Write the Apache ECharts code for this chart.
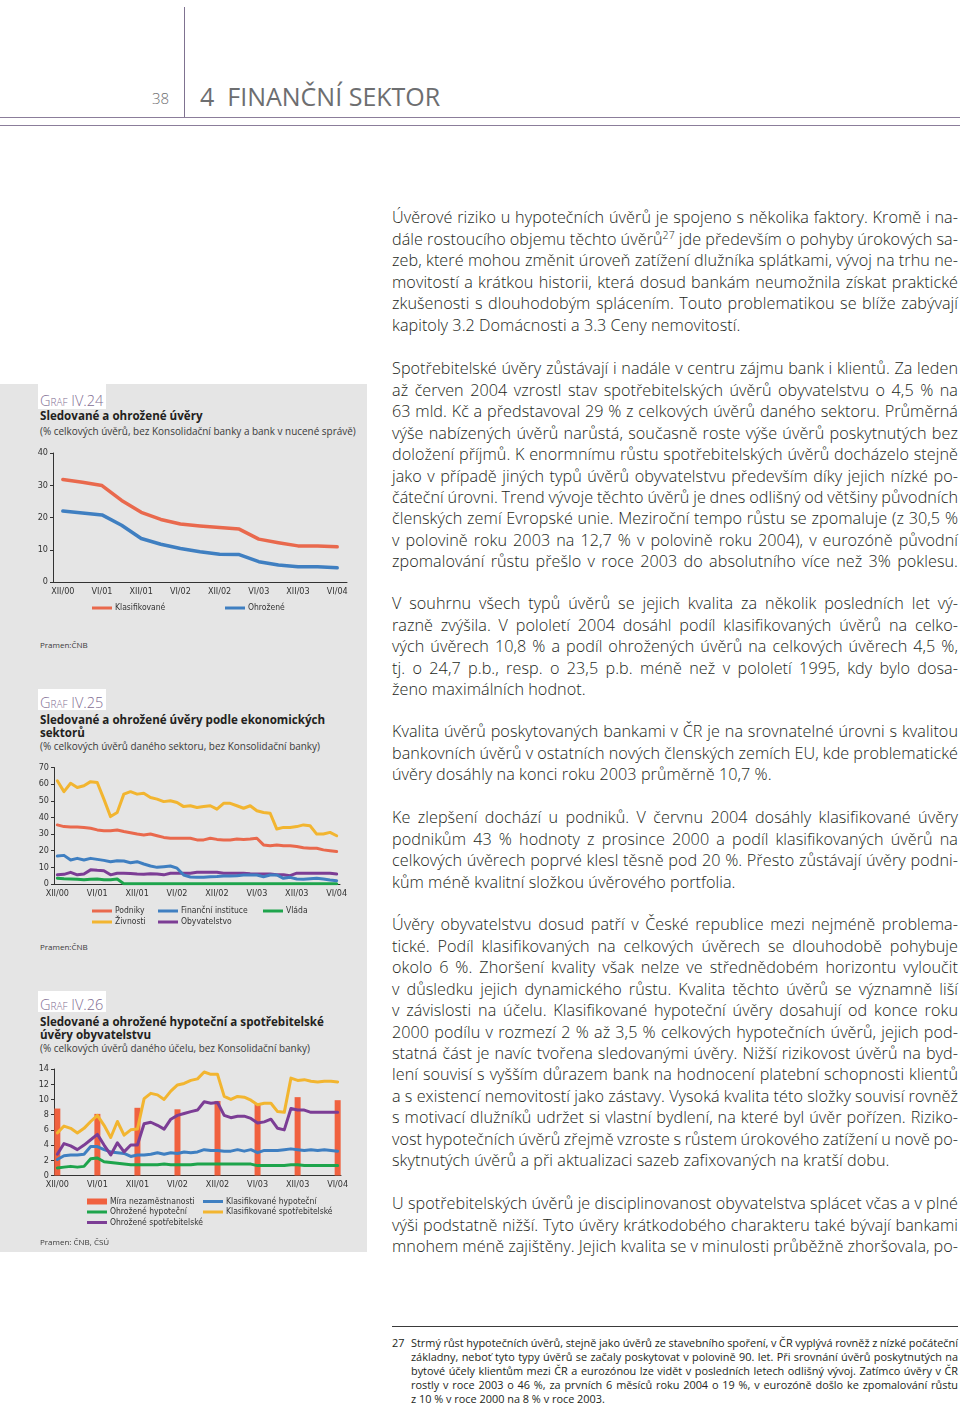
<!DOCTYPE html>
<html><head><meta charset="utf-8">
<script src="https://cdn.jsdelivr.net/npm/echarts@6/dist/echarts.min.js"></script>
<style>
html,body{margin:0;padding:0;background:#fff;}
#page{position:relative;width:960px;height:1406px;overflow:hidden;font-family:"Open Sans",sans-serif;color:#231f20;}
.a{position:absolute;white-space:nowrap;}
.rule{position:absolute;left:0;width:960px;height:1.5px;background:#8b7d9a;}
.para{position:absolute;left:392px;width:566px;font-size:16.2px;letter-spacing:0.05px;font-weight:300;line-height:21.45px;color:#231f20;}
.ln{width:566px;white-space:nowrap;}
.fn{position:absolute;left:411px;width:547px;font-size:10.9px;line-height:14px;color:#231f20;}
.fn .ln{width:547px;}
sup{font-size:10.5px;line-height:0;vertical-align:6px;}
.panel{position:absolute;left:0;top:384px;width:367px;height:868px;background:#e5e5e5;}
.tab{position:absolute;left:38px;width:68px;height:21px;background:#fff;}
.graf{position:absolute;left:40px;font-size:14.5px;line-height:18px;color:#7f6e93;font-variant:small-caps;font-weight:300;white-space:nowrap;}
.ttl{position:absolute;left:40px;font-size:11.6px;line-height:13.5px;font-weight:700;color:#231f20;white-space:nowrap;}
.sub{position:absolute;left:40px;font-size:9.95px;line-height:13px;color:#3a3a3a;white-space:nowrap;}
.src{position:absolute;left:40px;font-size:8px;line-height:10px;color:#3a3a3a;white-space:nowrap;}
.ch{position:absolute;left:0;width:367px;height:180px;}
</style></head>
<body><div id="page">
<!-- header -->
<div class="a" style="left:184px;top:7px;width:1.3px;height:110px;background:#7f7290;"></div>
<div class="a" style="left:152px;top:88px;font-size:15px;line-height:20px;color:#6d6e70;font-weight:300;">38</div>
<div class="a" style="left:200px;top:81px;font-size:25px;line-height:30px;color:#6d6e70;">4&nbsp; FINANČNÍ SEKTOR</div>
<div class="rule" style="top:116.5px;"></div>
<div class="rule" style="top:124.5px;"></div>

<!-- right column -->
<div class="para" style="top:207.3px;">
<div class="ln j"><span class="t">Úvěrové riziko u hypotečních úvěrů je spojeno s několika faktory. Kromě i na-</span></div>
<div class="ln j"><span class="t">dále rostoucího objemu těchto úvěrů<sup>27</sup> jde především o pohyby úrokových sa-</span></div>
<div class="ln j"><span class="t">zeb, které mohou změnit úroveň zatížení dlužníka splátkami, vývoj na trhu ne-</span></div>
<div class="ln j"><span class="t">movitostí a krátkou historii, která dosud bankám neumožnila získat praktické</span></div>
<div class="ln j"><span class="t">zkušenosti s dlouhodobým splácením. Touto problematikou se blíže zabývají</span></div>
<div class="ln l"><span class="t">kapitoly 3.2 Domácnosti a 3.3 Ceny nemovitostí.</span></div>
</div>
<div class="para" style="top:358.3px;">
<div class="ln j"><span class="t">Spotřebitelské úvěry zůstávají i nadále v centru zájmu bank i klientů. Za leden</span></div>
<div class="ln j"><span class="t">až červen 2004 vzrostl stav spotřebitelských úvěrů obyvatelstvu o 4,5 % na</span></div>
<div class="ln j"><span class="t">63 mld. Kč a představoval 29 % z celkových úvěrů daného sektoru. Průměrná</span></div>
<div class="ln j"><span class="t">výše nabízených úvěrů narůstá, současně roste výše úvěrů poskytnutých bez</span></div>
<div class="ln j"><span class="t">doložení příjmů. K enormnímu růstu spotřebitelských úvěrů docházelo stejně</span></div>
<div class="ln j"><span class="t">jako v případě jiných typů úvěrů obyvatelstvu především díky jejich nízké po-</span></div>
<div class="ln j"><span class="t">čáteční úrovni. Trend vývoje těchto úvěrů je dnes odlišný od většiny původních</span></div>
<div class="ln j"><span class="t">členských zemí Evropské unie. Meziroční tempo růstu se zpomaluje (z 30,5 %</span></div>
<div class="ln j"><span class="t">v polovině roku 2003 na 12,7 % v polovině roku 2004), v eurozóně původní</span></div>
<div class="ln j"><span class="t">zpomalování růstu přešlo v roce 2003 do absolutního více než 3% poklesu.</span></div>
</div>
<div class="para" style="top:593.3px;">
<div class="ln j"><span class="t">V souhrnu všech typů úvěrů se jejich kvalita za několik posledních let vý-</span></div>
<div class="ln j"><span class="t">razně zvýšila. V pololetí 2004 dosáhl podíl klasifikovaných úvěrů na celko-</span></div>
<div class="ln j"><span class="t">vých úvěrech 10,8 % a podíl ohrožených úvěrů na celkových úvěrech 4,5 %,</span></div>
<div class="ln j"><span class="t">tj. o 24,7 p.b., resp. o 23,5 p.b. méně než v pololetí 1995, kdy bylo dosa-</span></div>
<div class="ln l"><span class="t">ženo maximálních hodnot.</span></div>
</div>
<div class="para" style="top:721.3px;">
<div class="ln j"><span class="t">Kvalita úvěrů poskytovaných bankami v ČR je na srovnatelné úrovni s kvalitou</span></div>
<div class="ln j"><span class="t">bankovních úvěrů v ostatních nových členských zemích EU, kde problematické</span></div>
<div class="ln l"><span class="t">úvěry dosáhly na konci roku 2003 průměrně 10,7 %.</span></div>
</div>
<div class="para" style="top:807.3px;">
<div class="ln j"><span class="t">Ke zlepšení dochází u podniků. V červnu 2004 dosáhly klasifikované úvěry</span></div>
<div class="ln j"><span class="t">podnikům 43 % hodnoty z prosince 2000 a podíl klasifikovaných úvěrů na</span></div>
<div class="ln j"><span class="t">celkových úvěrech poprvé klesl těsně pod 20 %. Přesto zůstávají úvěry podni-</span></div>
<div class="ln l"><span class="t">kům méně kvalitní složkou úvěrového portfolia.</span></div>
</div>
<div class="para" style="top:914.3px;">
<div class="ln j"><span class="t">Úvěry obyvatelstvu dosud patří v České republice mezi nejméně problema-</span></div>
<div class="ln j"><span class="t">tické. Podíl klasifikovaných na celkových úvěrech se dlouhodobě pohybuje</span></div>
<div class="ln j"><span class="t">okolo 6 %. Zhoršení kvality však nelze ve střednědobém horizontu vyloučit</span></div>
<div class="ln j"><span class="t">v důsledku jejich dynamického růstu. Kvalita těchto úvěrů se významně liší</span></div>
<div class="ln j"><span class="t">v závislosti na účelu. Klasifikované hypoteční úvěry dosahují od konce roku</span></div>
<div class="ln j"><span class="t">2000 podílu v rozmezí 2 % až 3,5 % celkových hypotečních úvěrů, jejich pod-</span></div>
<div class="ln j"><span class="t">statná část je navíc tvořena sledovanými úvěry. Nižší rizikovost úvěrů na byd-</span></div>
<div class="ln j"><span class="t">lení souvisí s vyšším důrazem bank na hodnocení platební schopnosti klientů</span></div>
<div class="ln j"><span class="t">a s existencí nemovitostí jako zástavy. Vysoká kvalita této složky souvisí rovněž</span></div>
<div class="ln j"><span class="t">s motivací dlužníků udržet si vlastní bydlení, na které byl úvěr pořízen. Riziko-</span></div>
<div class="ln j"><span class="t">vost hypotečních úvěrů zřejmě vzroste s růstem úrokového zatížení u nově po-</span></div>
<div class="ln l"><span class="t">skytnutých úvěrů a při aktualizaci sazeb zafixovaných na kratší dobu.</span></div>
</div>
<div class="para" style="top:1193.3px;">
<div class="ln j"><span class="t">U spotřebitelských úvěrů je disciplinovanost obyvatelstva splácet včas a v plné</span></div>
<div class="ln j"><span class="t">výši podstatně nižší. Tyto úvěry krátkodobého charakteru také bývají bankami</span></div>
<div class="ln j"><span class="t">mnohem méně zajištěny. Jejich kvalita se v minulosti průběžně zhoršovala, po-</span></div>
</div>

<!-- footnote -->
<div class="a" style="left:392px;top:1326px;width:566px;height:1px;background:#3a3a3a;"></div>
<div class="a" style="left:392px;top:1336px;font-size:10.9px;line-height:14px;">27</div>
<div class="fn" style="top:1336px;">
<div class="ln j"><span class="t">Strmý růst hypotečních úvěrů, stejně jako úvěrů ze stavebního spoření, v ČR vyplývá rovněž z nízké počáteční</span></div>
<div class="ln j"><span class="t">základny, neboť tyto typy úvěrů se začaly poskytovat v polovině 90. let. Při srovnání úvěrů poskytnutých na</span></div>
<div class="ln j"><span class="t">bytové účely klientům mezi ČR a eurozónou lze vidět v posledních letech odlišný vývoj. Zatímco úvěry v ČR</span></div>
<div class="ln j"><span class="t">rostly v roce 2003 o 46 %, za prvních 6 měsíců roku 2004 o 19 %, v eurozóně došlo ke zpomalování růstu</span></div>
<div class="ln l"><span class="t">z 10 % v roce 2000 na 8 % v roce 2003.</span></div>
</div>

<!-- left panel -->
<div class="panel"></div>

<div class="tab" style="top:384px;height:25px;"></div>
<div class="graf" style="top:392px;">Graf IV.24</div>
<div class="ttl" style="top:409px;">Sledované a ohrožené úvěry</div>
<div class="sub" style="top:425px;">(% celkových úvěrů, bez Konsolidační banky a bank v nucené správě)</div>
<div id="c1" class="ch" style="top:440px;"></div>
<div class="src" style="top:640px;">Pramen:ČNB</div>

<div class="tab" style="top:689px;"></div>
<div class="graf" style="top:694px;">Graf IV.25</div>
<div class="ttl" style="top:712.5px;">Sledované a ohrožené úvěry podle ekonomických<br>sektorů</div>
<div class="sub" style="top:739.5px;">(% celkových úvěrů daného sektoru, bez Konsolidační banky)</div>
<div id="c2" class="ch" style="top:755px;"></div>
<div class="src" style="top:941.5px;">Pramen:ČNB</div>

<div class="tab" style="top:991px;"></div>
<div class="graf" style="top:996px;">Graf IV.26</div>
<div class="ttl" style="top:1014.5px;">Sledované a ohrožené hypoteční a spotřebitelské<br>úvěry obyvatelstvu</div>
<div class="sub" style="top:1041.5px;">(% celkových úvěrů daného účelu, bez Konsolidační banky)</div>
<div id="c3" class="ch" style="top:1058px;"></div>
<div class="src" style="top:1237px;">Pramen: ČNB, ČSÚ</div>
</div>

<script>
// ---------- DATA ----------
const quarters = ['XII/00','III/01','VI/01','IX/01','XII/01','III/02','VI/02','IX/02','XII/02','III/03','VI/03','IX/03','XII/03','III/04','VI/04'];
const klasifikovane = [31.8, 30.9, 29.9, 25.3, 21.6, 19.4, 18.0, 17.4, 16.9, 16.4, 13.3, 12.2, 11.2, 11.2, 10.9];
const ohrozene = [22.0, 21.4, 20.8, 17.6, 13.5, 11.7, 10.4, 9.4, 8.6, 8.5, 6.3, 5.3, 4.7, 4.7, 4.4];

const months = ['XII/00',
 'I/01','II/01','III/01','IV/01','V/01','VI/01','VII/01','VIII/01','IX/01','X/01','XI/01','XII/01',
 'I/02','II/02','III/02','IV/02','V/02','VI/02','VII/02','VIII/02','IX/02','X/02','XI/02','XII/02',
 'I/03','II/03','III/03','IV/03','V/03','VI/03','VII/03','VIII/03','IX/03','X/03','XI/03','XII/03',
 'I/04','II/04','III/04','IV/04','V/04','VI/04'];

const podniky = [35.5, 34.5, 34.3, 34.3, 34, 33.5, 32.5, 32, 32, 32.4, 31.5, 30.8, 30, 29.5, 30, 29, 28, 27.5, 27.5, 27.5, 27.5, 26.5, 26.5, 27.5, 26.8, 26.5, 26.5, 27, 26.8, 27, 27.5, 23.5, 23, 23.5, 23, 23, 22.5, 21.8, 21.5, 21.5, 20.5, 20, 19.5];
const zivnosti = [62, 55.5, 60.5, 58, 59, 61.5, 61, 51, 40.5, 43, 54, 55.5, 54, 54.5, 52, 51, 49.5, 50, 49, 46.5, 47, 46, 46.5, 47, 45, 48.5, 48.5, 47, 45.5, 47, 44, 43, 42.5, 33, 34, 34, 34.5, 35.5, 35, 30, 30, 31, 29];
const financni = [16.8, 17.2, 14.4, 15.4, 14.4, 15.4, 14.8, 14.2, 13.4, 14, 13.8, 12.8, 13.4, 12, 10.8, 10, 10.4, 10.8, 9.5, 5.4, 4.2, 4, 4, 4.3, 4.5, 4.8, 4.8, 5, 5.4, 5.4, 5.4, 4.4, 5.4, 5.4, 3.4, 4, 3, 2.8, 3.2, 3.4, 3, 2.4, 2];
const obyvatelstvo = [5.5, 5.8, 7, 5.5, 6, 8.5, 8.2, 8, 5.5, 6.5, 6.5, 6.3, 6, 5.8, 6.2, 6, 5.5, 6.5, 6.5, 6.5, 6.5, 7, 7, 7, 7, 6.5, 6.5, 6.5, 6.5, 6.2, 6, 6, 6, 5.5, 5.5, 5, 6.5, 6.5, 6.5, 6.5, 6.5, 6.5, 6];
const vlada = [3.5, 3.2, 3, 2.8, 2.5, 2.8, 3, 2.6, 2.6, 3, 0.2, 0.2, 0.2, 0.2, 0.2, 0.2, 0.2, 0.2, 0.2, 0.2, 0.2, 0.2, 0.2, 0.2, 0.2, 0.2, 0.2, 0.2, 0.2, 0.2, 0.2, 0.2, 0.2, 0.2, 0.2, 0.2, 0.2, 0.2, 0.2, 0.2, 0.2, 0.2, 0.2];

const unemploymentMonths = ['XII/00','VI/01','XII/01','VI/02','XII/02','VI/03','XII/03','VI/04'];
const unemployment = [8.8, 8.1, 8.9, 8.7, 9.8, 9.4, 10.3, 9.9];
const klasHyp = [2.1, 2.6, 2.7, 2.7, 2.8, 3.8, 3.8, 3.4, 3.1, 3.0, 2.9, 2.5, 2.7, 2.7, 2.8, 3.0, 2.8, 3.0, 2.9, 3.1, 3.0, 3.1, 3.4, 3.3, 3.3, 3.2, 3.2, 3.4, 3.2, 3.4, 3.0, 3.3, 3.3, 3.3, 3.4, 3.5, 3.4, 3.3, 3.4, 3.3, 3.4, 3.3, 3.2];
const ohrHyp = [1.0, 1.1, 1.2, 1.1, 1.2, 2.2, 2.3, 1.8, 1.7, 1.6, 1.5, 1.4, 1.4, 1.4, 1.4, 1.4, 1.5, 1.4, 1.4, 1.4, 1.4, 1.5, 1.5, 1.5, 1.5, 1.5, 1.5, 1.5, 1.5, 1.5, 1.3, 1.3, 1.3, 1.3, 1.3, 1.4, 1.4, 1.3, 1.3, 1.3, 1.3, 1.3, 1.3];
const klasSpotr = [5.6, 6.5, 6.2, 5.6, 6.2, 7.1, 7.9, 6.6, 5.0, 7.1, 5.3, 6.0, 6.1, 10.1, 10.8, 10.6, 10.0, 11.1, 11.9, 12.1, 12.5, 12.7, 13.6, 13.3, 13.3, 10.4, 10.0, 10.4, 10.3, 9.9, 9.3, 9.5, 9.5, 8.4, 8.3, 12.8, 12.5, 12.6, 12.4, 12.3, 12.4, 12.4, 12.3];
const ohrSpotr = [2.8, 4.2, 3.9, 3.4, 4.0, 4.7, 5.4, 4.0, 2.7, 4.3, 3.1, 4.0, 4.0, 6.8, 7.0, 6.6, 6.1, 7.4, 7.9, 8.15, 8.4, 8.6, 9.7, 9.5, 9.6, 7.9, 7.6, 7.8, 7.8, 7.5, 6.9, 7.05, 7.4, 6.2, 6.0, 8.8, 8.6, 8.6, 8.3, 8.3, 8.3, 8.3, 8.3];

// ---------- STYLE ----------
const FF = "'Liberation Sans Narrow','DejaVu Sans Condensed','Open Sans',sans-serif";
const RED='#e9694d', BLUE='#3f7fc1', YEL='#f2b530', GRN='#1ea44c', PUR='#7c3d95', BAR='#f0613f';
function xAx(data, interval){
  return {type:'category', data:data, boundaryGap:true,
    axisLine:{lineStyle:{color:'#333', width:1}}, axisTick:{show:false},
    axisLabel:{interval:interval, fontSize:9, color:'#333', margin:5, fontFamily:FF}};
}
function yAx(max, step){
  return {type:'value', min:0, max:max, interval:step, splitLine:{show:false},
    axisLine:{show:true, lineStyle:{color:'#333', width:1}},
    axisTick:{show:true, length:3, lineStyle:{color:'#333'}},
    axisLabel:{fontSize:9, color:'#333', margin:5, fontFamily:FF}};
}
function leg(name, left, top, icon, h){
  return {data:[name], left:left, top:top, padding:0, icon:icon||'rect', itemWidth:20, itemHeight:h||3,
    selectedMode:false, textStyle:{fontSize:8.5, color:'#333', fontFamily:FF, padding:[0,0,0,-2]}};
}
function ln(name, data, color, w){
  return {name:name, type:'line', data:data, symbol:'none', smooth:false,
    lineStyle:{width:w||3, color:color, join:'round', cap:'round'}, itemStyle:{color:color}};
}

const c1 = echarts.init(document.getElementById('c1'));
c1.setOption({
  animation:false,
  grid:{left:53, top:13, width:294, height:129},
  xAxis:xAx(quarters, 1), yAxis:yAx(40, 10),
  legend:[leg('Klasifikované', 92, 163.5), leg('Ohrožené', 225, 163.5)],
  series:[ln('Klasifikované', klasifikovane, RED, 3.5), ln('Ohrožené', ohrozene, BLUE, 3.5)]
});

const c2 = echarts.init(document.getElementById('c2'));
c2.setOption({
  animation:false,
  grid:{left:54, top:12.5, width:286, height:116.5},
  xAxis:xAx(months, 5), yAxis:yAx(70, 10),
  legend:[leg('Podniky', 92, 151.5), leg('Finanční instituce', 158, 151.5), leg('Vláda', 263, 151.5),
          leg('Živnosti', 92, 162.5), leg('Obyvatelstvo', 158, 162.5)],
  series:[ln('Vláda', vlada, GRN), ln('Obyvatelstvo', obyvatelstvo, PUR), ln('Finanční instituce', financni, BLUE),
          ln('Podniky', podniky, RED), ln('Živnosti', zivnosti, YEL)]
});

const c3 = echarts.init(document.getElementById('c3'));
c3.setOption({
  animation:false,
  grid:{left:54, top:11, width:287, height:106.5},
  xAxis:xAx(months, 5), yAxis:yAx(14, 2),
  legend:[leg('Míra nezaměstnanosti', 87, 139, 'rect', 6), leg('Klasifikované hypoteční', 203, 139),
          leg('Ohrožené hypoteční', 87, 149.5), leg('Klasifikované spotřebitelské', 203, 149.5),
          leg('Ohrožené spotřebitelské', 87, 160)],
  series:[
    {name:'Míra nezaměstnanosti', type:'bar', barWidth:6, itemStyle:{color:BAR},
     data:unemploymentMonths.map((m,i)=>[m, unemployment[i]])},
    ln('Klasifikované hypoteční', klasHyp, BLUE),
    ln('Ohrožené hypoteční', ohrHyp, GRN),
    ln('Klasifikované spotřebitelské', klasSpotr, YEL),
    ln('Ohrožené spotřebitelské', ohrSpotr, PUR)
  ]
});

// ---------- text justification ----------
function justify(){
  document.querySelectorAll('.ln').forEach(el=>{
    const sp = el.querySelector('.t');
    sp.style.wordSpacing = '0px';
    const W = el.clientWidth;
    const w = sp.getBoundingClientRect().width;
    const n = (sp.textContent.match(/ /g)||[]).length;
    if(n === 0) return;
    if(el.classList.contains('j') || w > W){
      sp.style.wordSpacing = ((W - w) / n) + 'px';
    }
  });
}
justify();
if(document.fonts && document.fonts.ready){ document.fonts.ready.then(justify); }
</script>
</body></html>
